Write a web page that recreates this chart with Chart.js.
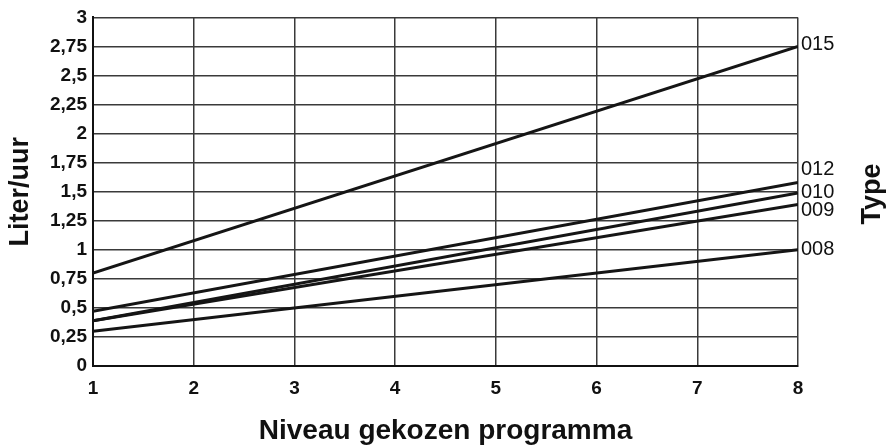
<!DOCTYPE html>
<html lang="nl">
<head>
    <meta charset="UTF-8">
    <title>Liter/uur per niveau</title>
    <script src="https://cdn.jsdelivr.net/npm/chart.js"></script>
    <style>
        html, body { margin: 0; padding: 0; background: #fff; }
        .wrap { width: 890px; height: 448px; }
    </style>
</head>
<body>
    <div class="wrap"><canvas id="niveauChart" width="890" height="448"></canvas></div>

    <script>
        // niveau gekozen programma (x) -> liter/uur per type
        const levels = [1, 8];
        const types = ['015', '012', '010', '009', '008'];
        const type015 = [0.80, 2.75];
        const type012 = [0.47, 1.58];
        const type010 = [0.39, 1.49];
        const type009 = [0.39, 1.39];
        const type008 = [0.30, 1.00];
        const yTickLabels = ['0', '0,25', '0,5', '0,75', '1', '1,25', '1,5', '1,75', '2', '2,25', '2,5', '2,75', '3'];

        const seriesValues = [type015, type012, type010, type009, type008];
        const FONT = "'Liberation Sans', Arial, sans-serif";

        // small nudges so the type labels on the right don't overlap
        const labelNudge = { '015': -2, '012': -13, '010': 0, '009': 6, '008': 0 };

        const sideLabels = {
            id: 'sideLabels',
            afterDraw(chart) {
                let ctx = chart.ctx;
                let area = chart.chartArea;
                ctx.save();
                ctx.fillStyle = '#111';
                ctx.font = '20px ' + FONT;
                ctx.textAlign = 'left';
                ctx.textBaseline = 'middle';
                chart.data.datasets.forEach((ds, i) => {
                    let pts = chart.getDatasetMeta(i).data;
                    let last = pts[pts.length - 1];
                    ctx.fillText(ds.label, area.right + 3, last.y + labelNudge[ds.label]);
                });

                // "Type" reads bottom to top on the right
                ctx.font = 'bold 27px ' + FONT;
                ctx.textAlign = 'center';
                ctx.translate(873, 194);
                ctx.rotate(-Math.PI / 2);
                ctx.fillText('Type', 0, 0);
                ctx.restore();
            }
        };

        let ctx = document.getElementById('niveauChart').getContext('2d');
        let niveauChart = new Chart(ctx, {
            type: 'line',
            data: {
                datasets: types.map((t, i) => ({
                    label: t,
                    data: levels.map((x, j) => ({ x: x, y: seriesValues[i][j] })),
                    borderColor: '#151515',
                    borderWidth: 3,
                    pointRadius: 0,
                    fill: false,
                    tension: 0
                }))
            },
            options: {
                responsive: false,
                animation: false,
                layout: { padding: { top: 13, right: 92, left: 0, bottom: 0 } },
                plugins: {
                    legend: { display: false },
                    tooltip: { enabled: false }
                },
                scales: {
                    x: {
                        type: 'linear',
                        min: 1,
                        max: 8,
                        afterFit: s => { s.height = 82; },
                        ticks: {
                            stepSize: 1,
                            color: '#111',
                            padding: 11,
                            font: { family: FONT, size: 19, weight: 'bold' }
                        },
                        grid: { color: '#3a3a3a', lineWidth: 1.5, drawTicks: false },
                        border: { color: '#111', width: 2 },
                        title: {
                            display: true,
                            text: 'Niveau gekozen programma',
                            color: '#111',
                            padding: 0,
                            font: { family: FONT, size: 28, weight: 'bold' }
                        }
                    },
                    y: {
                        min: 0,
                        max: 3,
                        afterFit: s => { s.width = 93; },
                        ticks: {
                            stepSize: 0.25,
                            color: '#111',
                            padding: 6,
                            font: { family: FONT, size: 19, weight: 'bold' },
                            callback: (v, i) => yTickLabels[i]
                        },
                        grid: { color: '#3a3a3a', lineWidth: 1.5, drawTicks: false },
                        border: { color: '#111', width: 2 },
                        title: {
                            display: true,
                            text: 'Liter/uur',
                            color: '#111',
                            padding: { top: 4, bottom: 0 },
                            font: { family: FONT, size: 27, weight: 'bold' }
                        }
                    }
                }
            },
            plugins: [sideLabels]
        });
    </script>
</body>
</html>
